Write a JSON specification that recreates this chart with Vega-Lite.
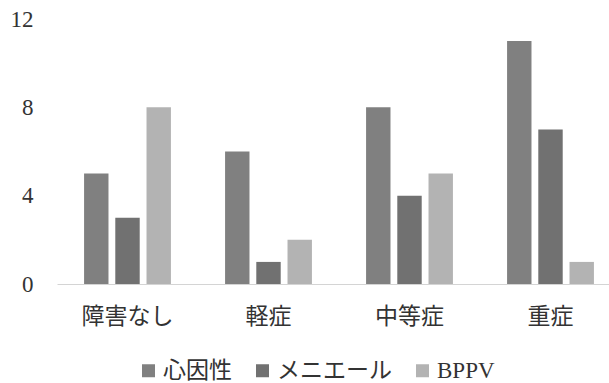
{
  "$schema": "https://vega.github.io/schema/vega-lite/v6.json",
  "autosize": {"type": "none"},
  "width": 564,
  "height": 265,
  "padding": {"left": 57, "top": 19, "right": 0, "bottom": 99},
  "background": "white",
  "data": {
    "values": [
      {"severity": "障害なし", "group": "心因性", "count": 5},
      {"severity": "障害なし", "group": "メニエール", "count": 3},
      {"severity": "障害なし", "group": "BPPV", "count": 8},
      {"severity": "軽症", "group": "心因性", "count": 6},
      {"severity": "軽症", "group": "メニエール", "count": 1},
      {"severity": "軽症", "group": "BPPV", "count": 2},
      {"severity": "中等症", "group": "心因性", "count": 8},
      {"severity": "中等症", "group": "メニエール", "count": 4},
      {"severity": "中等症", "group": "BPPV", "count": 5},
      {"severity": "重症", "group": "心因性", "count": 11},
      {"severity": "重症", "group": "メニエール", "count": 7},
      {"severity": "重症", "group": "BPPV", "count": 1}
    ]
  },
  "config": {
    "view": {"stroke": null},
    "font": "Liberation Serif, Noto Sans CJK JP"
  },
  "mark": {"type": "bar"},
  "encoding": {
    "x": {
      "field": "severity",
      "type": "nominal",
      "sort": ["障害なし", "軽症", "中等症", "重症"],
      "scale": {"paddingInner": 0.384, "paddingOuter": 0.192},
      "axis": {
        "title": null,
        "labelAngle": 0,
        "ticks": false,
        "domainColor": "#d4d4d4",
        "domainWidth": 1,
        "labelFont": "Liberation Serif, Noto Sans CJK JP",
        "labelFontSize": 23,
        "labelColor": "#333333",
        "labelPadding": 21
      }
    },
    "xOffset": {
      "field": "group",
      "type": "nominal",
      "sort": ["心因性", "メニエール", "BPPV"],
      "scale": {"paddingInner": 0.218, "paddingOuter": 0}
    },
    "y": {
      "field": "count",
      "type": "quantitative",
      "scale": {"domain": [0, 12]},
      "axis": {
        "title": null,
        "values": [0, 4, 8, 12],
        "grid": false,
        "domain": false,
        "ticks": false,
        "labelFont": "Liberation Serif",
        "labelFontSize": 23,
        "labelColor": "#333333",
        "labelPadding": 24
      }
    },
    "color": {
      "field": "group",
      "type": "nominal",
      "sort": ["心因性", "メニエール", "BPPV"],
      "scale": {
        "domain": ["心因性", "メニエール", "BPPV"],
        "range": ["#808080", "#717171", "#b3b3b3"]
      },
      "legend": {
        "title": null,
        "orient": "none",
        "direction": "horizontal",
        "legendX": 80,
        "legendY": 340,
        "symbolType": "square",
        "symbolSize": 169,
        "symbolStrokeWidth": 0,
        "labelFont": "Liberation Serif, Noto Sans CJK JP",
        "labelFontSize": 23,
        "labelColor": "#333333",
        "labelOffset": 3,
        "columnPadding": 19
      }
    }
  }
}
